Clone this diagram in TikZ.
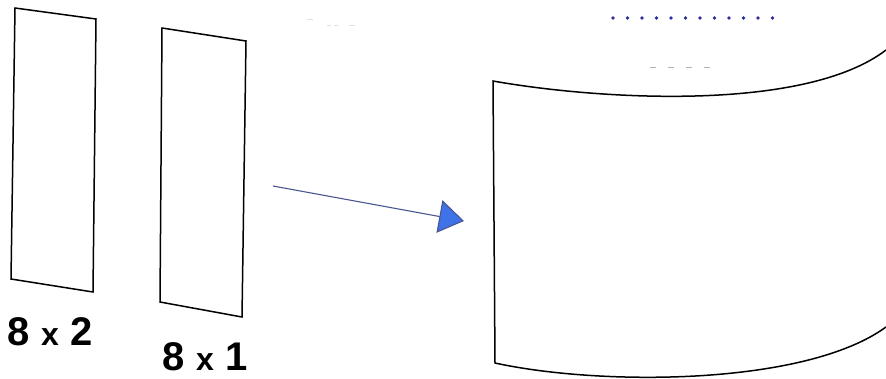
\documentclass[tikz,border=0pt]{standalone}
\usepackage{fontspec}
\setmainfont{Liberation Sans}
\usetikzlibrary{arrows.meta}
\definecolor{arrline}{HTML}{4A5690}
\definecolor{arrfill}{HTML}{3F72E6}
\definecolor{dotblue}{HTML}{2E2E9E}
\tikzset{
  panel/.style={draw=black, line width=1.5pt, line join=miter},
  lbl/.style={inner sep=0pt, anchor=center},
  conn/.style={draw=arrline, line width=1.1pt, -{Triangle[length=25pt,width=33pt,fill=arrfill]}},
  faintdash/.style={draw=gray!60, line width=0.9pt},
  faintest/.style={draw=gray!25, line width=0.8pt}
}
\newcommand{\bigx}[2]{{\bfseries\fontsize{40}{40}\selectfont #1 {\fontsize{32}{32}\selectfont x} #2}}
\begin{document}
\begin{tikzpicture}[x=1pt,y=-1pt]
\useasboundingbox (0,0) rectangle (886,378);
\clip (0,0) rectangle (886,378);
% left panel 8x2
\coordinate (p1a) at (15,8);
\coordinate (p1b) at (96,19);
\coordinate (p1c) at (93,292);
\coordinate (p1d) at (11,279);
\draw[panel] (p1a) -- (p1b) -- (p1c) -- (p1d) -- cycle;
% middle panel 8x1
\coordinate (p2a) at (162,28);
\coordinate (p2b) at (246,41);
\coordinate (p2c) at (242,317);
\coordinate (p2d) at (160,302);
\draw[panel] (p2a) -- (p2b) -- (p2c) -- (p2d) -- cycle;
% labels
\node[lbl] (l1) at (50,332) {\bigx{8}{2}};
\node[lbl] (l2) at (205,357) {\bigx{8}{1}};
% arrow
\coordinate (a1) at (273,186);
\coordinate (a2) at (464,221);
\draw[conn] (a1) -- (a2);
% curved sheet
\coordinate (s1) at (493,81);
\coordinate (s2) at (886,50);
\coordinate (s3) at (886,327);
\coordinate (s4) at (495,363);
\draw[panel] (s2) .. controls (805,112) and (600,100) .. (s1) -- (s4)
  .. controls (600,386) and (805,386) .. (s3);
% blue dotted row
\foreach \i in {0,...,11} {
  \fill[dotblue] ({613+\i*14.5},18) circle (1.9pt);
}
% gray dashes
\foreach \xx in {653,671,689,707} {
  \draw[faintdash] (\xx-3,67) -- (\xx+3,67);
}
% faint marks top
\draw[faintest] (307,19) -- (313,19);
\draw[faintest] (327,25) -- (331,25);
\draw[faintest] (334,25) -- (338,25);
\draw[faintest] (349,25) -- (355,25);
\end{tikzpicture}
\end{document}
